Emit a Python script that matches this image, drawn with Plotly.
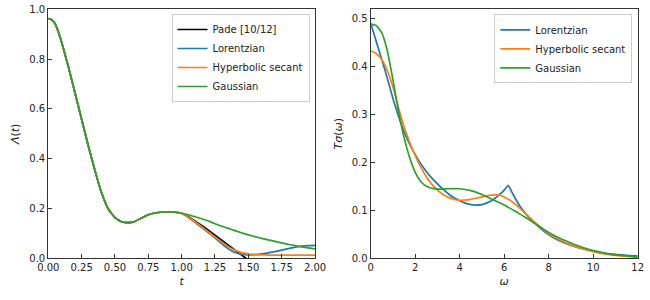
import plotly.graph_objects as go

# ---------------- data: left panel, Lambda(t) ----------------
t_common = [0.00, 0.025, 0.05, 0.075, 0.10, 0.15, 0.20, 0.25, 0.30, 0.35, 0.40, 0.45, 0.50,
            0.55, 0.60, 0.65, 0.70, 0.75, 0.80, 0.85, 0.90, 0.95, 1.00]
lam_common = [0.963, 0.958, 0.943, 0.910, 0.868, 0.770, 0.665, 0.558, 0.452, 0.352, 0.262, 0.198, 0.163,
              0.147, 0.143, 0.148, 0.162, 0.175, 0.182, 0.186, 0.187, 0.185, 0.181]

t_pade_tail = [1.05, 1.10, 1.15, 1.20, 1.25, 1.30, 1.35, 1.40, 1.45, 1.50, 1.55]
lam_pade_tail = [0.167, 0.150, 0.132, 0.113, 0.093, 0.073, 0.053, 0.033, 0.013, -0.007, -0.027]

t_tail = [1.05, 1.10, 1.15, 1.20, 1.25, 1.30, 1.35, 1.40, 1.45, 1.50, 1.55, 1.60,
          1.65, 1.70, 1.75, 1.80, 1.85, 1.90, 1.95, 2.00]
lam_lor_tail = [0.164, 0.145, 0.124, 0.103, 0.082, 0.059, 0.038, 0.023, 0.016, 0.014, 0.015, 0.018,
                0.022, 0.027, 0.033, 0.039, 0.045, 0.049, 0.051, 0.052]
lam_sech_tail = [0.165, 0.147, 0.127, 0.106, 0.085, 0.065, 0.046, 0.032, 0.023, 0.018, 0.015, 0.014,
                 0.013, 0.013, 0.013, 0.013, 0.013, 0.013, 0.013, 0.013]
lam_gauss_tail = [0.175, 0.167, 0.159, 0.150, 0.139, 0.129, 0.120, 0.111, 0.102, 0.094, 0.087, 0.080,
                  0.074, 0.068, 0.062, 0.056, 0.051, 0.046, 0.042, 0.038]

# ---------------- data: right panel, T sigma(omega) ----------------
w_lor = [0.0, 0.25, 0.5, 0.75, 1.0, 1.25, 1.5, 1.75, 2.0, 2.25, 2.5, 2.75, 3.0, 3.25, 3.5,
         3.75, 4.0, 4.25, 4.5, 4.75, 5.0, 5.25, 5.5, 5.75, 6.0, 6.18, 6.4, 6.7, 7.0, 7.25,
         7.5, 7.75, 8.0, 8.5, 9.0, 9.5, 10.0, 10.5, 11.0, 11.5, 12.0]
s_lor = [0.490, 0.452, 0.414, 0.375, 0.333, 0.296, 0.264, 0.238, 0.216, 0.197, 0.181, 0.167,
         0.155, 0.144, 0.134, 0.126, 0.120, 0.115, 0.112, 0.111, 0.112, 0.116, 0.122, 0.131,
         0.142, 0.152, 0.133, 0.109, 0.091, 0.078, 0.068, 0.058, 0.049, 0.036, 0.027, 0.020,
         0.015, 0.011, 0.008, 0.006, 0.005]

w_sech = [0.0, 0.25, 0.5, 0.75, 1.0, 1.25, 1.5, 1.75, 2.0, 2.25, 2.5, 2.75, 3.0, 3.25, 3.5,
          3.75, 4.0, 4.5, 5.0, 5.5, 5.75, 6.0, 6.5, 7.0, 7.5, 8.0, 8.5, 9.0, 9.5, 10.0,
          10.5, 11.0, 11.5, 12.0]
s_sech = [0.432, 0.427, 0.414, 0.391, 0.357, 0.314, 0.274, 0.242, 0.214, 0.190, 0.170, 0.154,
          0.142, 0.133, 0.127, 0.123, 0.121, 0.123, 0.128, 0.132, 0.132, 0.128, 0.113, 0.091,
          0.070, 0.051, 0.038, 0.028, 0.020, 0.014, 0.009, 0.006, 0.004, 0.002]

w_gauss = [0.0, 0.25, 0.5, 0.75, 1.0, 1.25, 1.5, 1.75, 2.0, 2.25, 2.5, 2.75, 3.0, 3.5, 4.0, 4.5,
           5.0, 5.5, 6.0, 6.5, 7.0, 7.5, 8.0, 8.5, 9.0, 9.5, 10.0, 10.5, 11.0, 11.5, 12.0]
s_gauss = [0.488, 0.485, 0.470, 0.432, 0.372, 0.306, 0.252, 0.210, 0.179, 0.160, 0.150, 0.146,
           0.144, 0.145, 0.145, 0.141, 0.133, 0.122, 0.111, 0.098, 0.084, 0.069, 0.054, 0.042,
           0.032, 0.023, 0.016, 0.011, 0.007, 0.005, 0.003]

left_xticks = [0.0, 0.25, 0.5, 0.75, 1.0, 1.25, 1.5, 1.75, 2.0]
left_yticks = [0.0, 0.2, 0.4, 0.6, 0.8, 1.0]
right_xticks = [0, 2, 4, 6, 8, 10, 12]
right_yticks = [0.0, 0.1, 0.2, 0.3, 0.4, 0.5]

C_BLUE, C_ORANGE, C_GREEN, C_BLACK = "#1f77b4", "#ff7f0e", "#2ca02c", "#000000"
LW = 1.7
FONT = "DejaVu Sans"

fig = go.Figure()

def line(x, y, name, color, xa, ya, legend, show=True):
    fig.add_trace(go.Scatter(
        x=x, y=y, name=name, mode="lines",
        line=dict(color=color, width=LW, shape="spline", smoothing=0.4),
        xaxis=xa, yaxis=ya, legend=legend, showlegend=show))

line(t_common + t_pade_tail, lam_common + lam_pade_tail, "Pade [10/12]", C_BLACK, "x", "y", "legend")
line(t_common + t_tail, lam_common + lam_lor_tail, "Lorentzian", C_BLUE, "x", "y", "legend")
line(t_common + t_tail, lam_common + lam_sech_tail, "Hyperbolic secant", C_ORANGE, "x", "y", "legend")
line(t_common + t_tail, lam_common + lam_gauss_tail, "Gaussian", C_GREEN, "x", "y", "legend")

line(w_lor, s_lor, "Lorentzian", C_BLUE, "x2", "y2", "legend2")
line(w_sech, s_sech, "Hyperbolic secant", C_ORANGE, "x2", "y2", "legend2")
line(w_gauss, s_gauss, "Gaussian", C_GREEN, "x2", "y2", "legend2")

W, H = 650, 300


def fx(px):
    return px / W


def fy(py):
    return (H - py) / H


ax_common = dict(showgrid=False, zeroline=False, showline=True, mirror=True,
                 linecolor="#333333", linewidth=1.2, ticks="inside", ticklen=4,
                 tickwidth=1, tickcolor="#333333", automargin=False,
                 tickfont=dict(family=FONT, size=10, color="#222222"))

ydom = [fy(258.3), fy(9.3)]

fig.update_layout(
    width=W, height=H,
    margin=dict(l=0, r=0, t=0, b=0, pad=0, autoexpand=False),
    paper_bgcolor="white", plot_bgcolor="white",
    font=dict(family=FONT, size=10, color="#222222"),
    xaxis=dict(ax_common, domain=[fx(48.3), fx(315.0)], range=[0, 2], anchor="y",
               tickvals=left_xticks, tickformat=".2f",
               title=dict(text="<i>t</i>", standoff=4, font=dict(family=FONT, size=11))),
    yaxis=dict(ax_common, domain=ydom, range=[0, 1], anchor="x",
               tickvals=left_yticks, tickformat=".1f",
               title=dict(text="<i>Λ</i>(<i>t</i>)", standoff=7, font=dict(family=FONT, size=11))),
    xaxis2=dict(ax_common, domain=[fx(370.7), fx(637.7)], range=[0, 12], anchor="y2",
                tickvals=right_xticks,
                title=dict(text="<i>ω</i>", standoff=4, font=dict(family=FONT, size=11))),
    yaxis2=dict(ax_common, domain=ydom, range=[0, 0.519], anchor="x2",
                tickvals=right_yticks, tickformat=".1f",
                title=dict(text="<i>Tσ</i>(<i>ω</i>)", standoff=6, font=dict(family=FONT, size=11))),
    legend=dict(x=fx(309.5), y=fy(14), xanchor="right", yanchor="top",
                bgcolor="rgba(255,255,255,0.8)", bordercolor="#cccccc", borderwidth=1,
                font=dict(family=FONT, size=10, color="#222222"), tracegroupgap=0, itemwidth=30),
    legend2=dict(x=fx(632.3), y=fy(14.3), xanchor="right", yanchor="top",
                 bgcolor="rgba(255,255,255,0.8)", bordercolor="#cccccc", borderwidth=1,
                 font=dict(family=FONT, size=10, color="#222222"), tracegroupgap=0, itemwidth=30),
)

fig.write_html(
    "out.html",
    config={"displayModeBar": False},
    post_script="document.body.style.margin='0';document.body.style.overflow='hidden';",
)
